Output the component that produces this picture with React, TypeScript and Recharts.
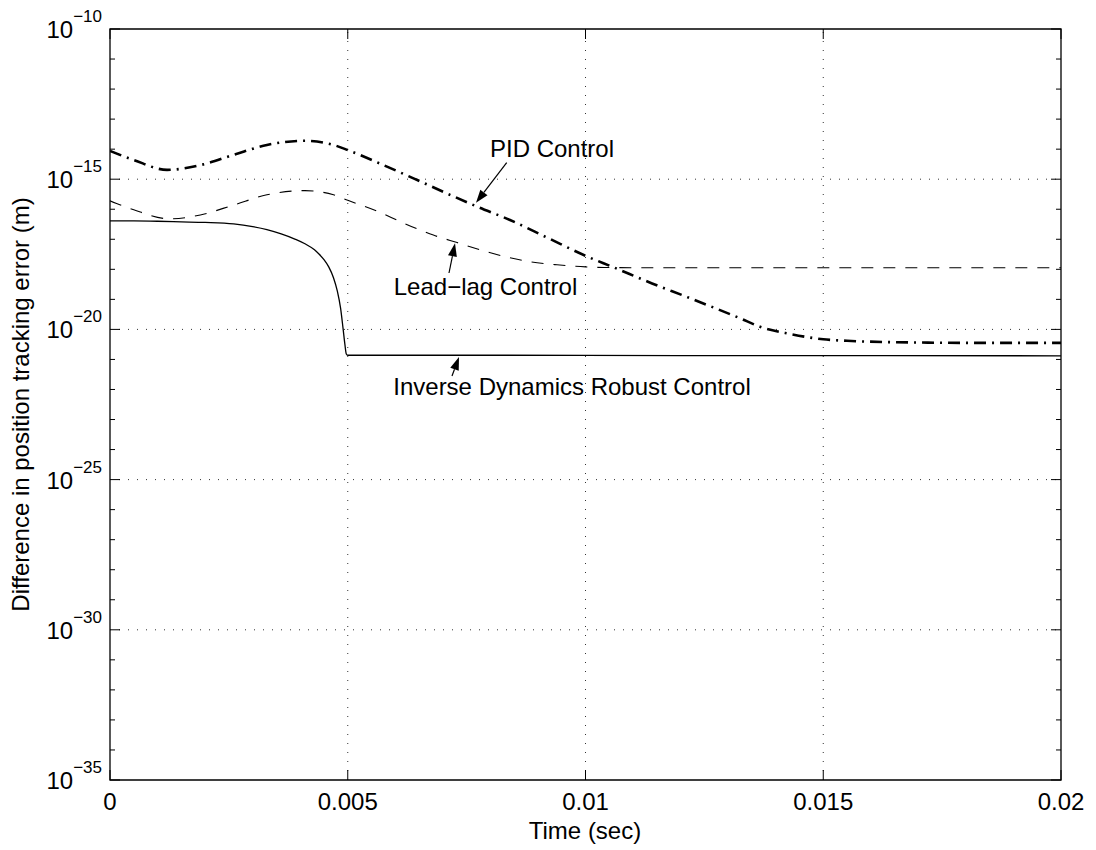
import {
  LineChart,
  Line,
  XAxis,
  YAxis,
  ReferenceLine,
  ReferenceArea,
} from 'recharts';

// time axis (sec)
const X_TICKS = [0, 0.005, 0.01, 0.015, 0.02];
const X_LABELS = ['0', '0.005', '0.01', '0.015', '0.02'];

// log axis, decades (exponent of 10)
const Y_TICK_EXP = [
  -35, -34, -33, -32, -31, -30, -29, -28, -27, -26, -25, -24, -23, -22, -21,
  -20, -19, -18, -17, -16, -15, -14, -13, -12, -11, -10,
];
const Y_MAJOR_EXP = [-35, -30, -25, -20, -15, -10];

// PID Control
const PID_T = [
  0, 0.0005, 0.0012, 0.0019, 0.0026, 0.0033, 0.0041, 0.0047, 0.005, 0.00575,
  0.00645, 0.00715, 0.0077, 0.0084, 0.0092, 0.01, 0.0106, 0.0114, 0.0121,
  0.0128, 0.01325, 0.01367, 0.0143, 0.015, 0.0155, 0.0163, 0.0172, 0.0185, 0.02,
];
const PID_EXP = [
  -14.06, -14.36, -14.69, -14.53, -14.19, -13.86, -13.72, -13.86, -14.03, -14.53,
  -15.02, -15.52, -15.9, -16.35, -16.95, -17.55, -17.94, -18.47, -18.9,
  -19.34, -19.63, -19.91, -20.15, -20.33, -20.38, -20.42, -20.44, -20.45, -20.45,
];

// Lead-lag Control
const LL_T = [
  0, 0.0005, 0.00126, 0.0019, 0.0026, 0.0033, 0.0041, 0.0047, 0.005, 0.0057,
  0.0061, 0.0068, 0.0073, 0.008, 0.0088, 0.0094, 0.01, 0.0104, 0.012, 0.016, 0.02,
];
const LL_EXP = [
  -15.72, -16.02, -16.32, -16.19, -15.86, -15.52, -15.38, -15.52, -15.7, -16.12,
  -16.41, -16.86, -17.11, -17.45, -17.74, -17.85, -17.92, -17.94, -17.95, -17.95, -17.95,
];

// Inverse Dynamics Robust Control
const INV_T = [
  0, 0.0005, 0.001, 0.0015, 0.002, 0.0026, 0.003, 0.0033, 0.0036, 0.0039, 0.0041,
  0.0043, 0.0044, 0.0045, 0.0046, 0.0047, 0.00478, 0.00485, 0.0049, 0.00494,
  0.00497, 0.005, 0.008, 0.012, 0.016, 0.02,
];
const INV_EXP = [
  -16.39, -16.39, -16.4, -16.42, -16.44, -16.49, -16.58, -16.68, -16.82, -17.0, -17.15,
  -17.35, -17.5, -17.68, -17.92, -18.28, -18.72, -19.3, -19.95, -20.5,
  -20.82, -20.86, -20.86, -20.87, -20.87, -20.88,
];

const toPoints = (ts: number[], es: number[]) =>
  ts.map((t, i) => ({ t, v: Math.pow(10, es[i]) }));

const FONT = '"Liberation Sans", Arial, Helvetica, sans-serif';
const W = 1080;
const H = 840;
const PLOT = { left: 102, top: 21, right: 1053, bottom: 772 };

type TickProps = {
  x: number;
  y: number;
  payload: { value: number };
};

function YTick({ y, payload }: TickProps) {
  const exp = Math.round(Math.log10(payload.value));
  const major = exp % 5 === 0;
  const len = major ? 10 : 5;
  return (
    <g>
      <line x1={PLOT.left} x2={PLOT.left + len} y1={y} y2={y} stroke="#000" />
      <line x1={PLOT.right - len} x2={PLOT.right} y1={y} y2={y} stroke="#000" />
      {major && (
        <text x={PLOT.left - 8} y={y + 9} textAnchor="end" fontFamily={FONT} fill="#000">
          <tspan fontSize={24}>10</tspan>
          <tspan fontSize={17} dy={-16}>
            {'\u2212' + Math.abs(exp)}
          </tspan>
        </text>
      )}
    </g>
  );
}

function XTick({ x, payload }: TickProps) {
  const i = X_TICKS.indexOf(payload.value);
  return (
    <g>
      <line x1={x} x2={x} y1={PLOT.bottom} y2={PLOT.bottom - 10} stroke="#000" />
      <line x1={x} x2={x} y1={PLOT.top} y2={PLOT.top + 10} stroke="#000" />
      <text x={x} y={PLOT.bottom + 30} textAnchor="middle" fontSize={24} fontFamily={FONT} fill="#000">
        {X_LABELS[i]}
      </text>
    </g>
  );
}

function Arrow({ x1, y1, x2, y2 }: { x1: number; y1: number; x2: number; y2: number }) {
  const dx = x2 - x1;
  const dy = y2 - y1;
  const d = Math.hypot(dx, dy);
  const ux = dx / d;
  const uy = dy / d;
  const hl = 13;
  const hw = 4.5;
  const bx = x2 - ux * hl;
  const by = y2 - uy * hl;
  const pts = `${x2},${y2} ${bx - uy * hw},${by + ux * hw} ${bx + uy * hw},${by - ux * hw}`;
  return (
    <g>
      <line x1={x1} y1={y1} x2={bx} y2={by} stroke="#000" strokeWidth={1.2} />
      <polygon points={pts} fill="#000" />
    </g>
  );
}

export default function App() {
  const pid = toPoints(PID_T, PID_EXP);
  const leadLag = toPoints(LL_T, LL_EXP);
  const inverse = toPoints(INV_T, INV_EXP);
  const gridX = X_TICKS.slice(1, -1);
  const gridY = Y_MAJOR_EXP.slice(1, -1).map((e) => Math.pow(10, e));

  return (
    <div style={{ position: 'relative', width: W, height: H, background: '#fff' }}>
      <LineChart width={W} height={H} margin={{ top: PLOT.top, right: W - PLOT.right, bottom: 0, left: 0 }}>
        <XAxis
          dataKey="t"
          type="number"
          domain={[0, 0.02]}
          ticks={X_TICKS}
          height={H - PLOT.bottom}
          axisLine={false}
          tickLine={false}
          tickSize={0}
          tickMargin={0}
          interval={0}
          allowDataOverflow
          tick={(p: TickProps) => <XTick {...p} />}
        />
        <YAxis
          type="number"
          scale="log"
          domain={[1e-35, 1e-10]}
          ticks={Y_TICK_EXP.map((e) => Math.pow(10, e))}
          width={PLOT.left}
          axisLine={false}
          tickLine={false}
          tickSize={0}
          tickMargin={0}
          interval={0}
          allowDataOverflow
          tick={(p: TickProps) => <YTick {...p} />}
        />
        {gridX.map((v) => (
          <ReferenceLine key={'gx' + v} x={v} stroke="#333" strokeWidth={1} strokeDasharray="1 8" />
        ))}
        {gridY.map((v) => (
          <ReferenceLine key={'gy' + v} y={v} stroke="#333" strokeWidth={1} strokeDasharray="1 8" />
        ))}
        <Line
          data={inverse}
          dataKey="v"
          type="monotone"
          stroke="#000"
          strokeWidth={1.3}
          dot={false}
          isAnimationActive={false}
        />
        <Line
          data={leadLag}
          dataKey="v"
          type="monotone"
          stroke="#000"
          strokeWidth={1.1}
          strokeDasharray="12 10"
          dot={false}
          isAnimationActive={false}
        />
        <Line
          data={pid}
          dataKey="v"
          type="monotone"
          stroke="#000"
          strokeWidth={2.6}
          strokeDasharray="12 6 2 6"
          dot={false}
          isAnimationActive={false}
        />
        <ReferenceArea
          x1={0}
          x2={0.02}
          y1={1e-35}
          y2={1e-10}
          fill="none"
          fillOpacity={0}
          stroke="#000"
          strokeWidth={1.3}
        />
      </LineChart>
      <svg
        width={W}
        height={H}
        style={{ position: 'absolute', left: 0, top: 0, pointerEvents: 'none' }}
        fontFamily={FONT}
      >
        <text x={544} y={149} textAnchor="middle" fontSize={24}>
          PID Control
        </text>
        <Arrow x1={498.7} y1={154.7} x2={468} y2={194.7} />
        <text x={477.5} y={287} textAnchor="middle" fontSize={24}>
          Lead{'\u2212'}lag Control
        </text>
        <Arrow x1={441} y1={265} x2={447} y2={235.3} />
        <text x={564} y={387} textAnchor="middle" fontSize={24}>
          Inverse Dynamics Robust Control
        </text>
        <Arrow x1={444} y1={368} x2={451} y2={349} />
        <text x={577} y={831} textAnchor="middle" fontSize={24}>
          Time (sec)
        </text>
        <text
          x={0}
          y={0}
          transform={`translate(21, ${(PLOT.top + PLOT.bottom) / 2}) rotate(-90)`}
          textAnchor="middle"
          fontSize={24}
        >
          Difference in position tracking error (m)
        </text>
      </svg>
    </div>
  );
}
